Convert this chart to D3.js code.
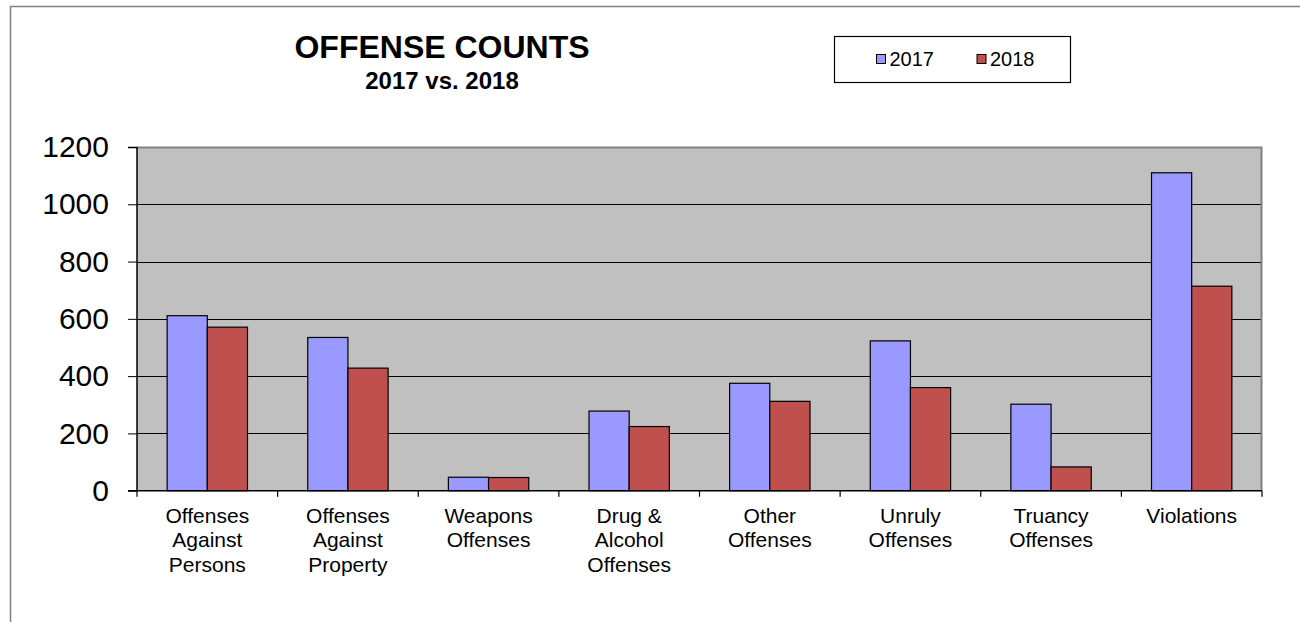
<!DOCTYPE html>
<html>
<head>
<meta charset="utf-8">
<script src="https://cdn.jsdelivr.net/npm/d3@7/dist/d3.min.js"></script>
<style>
  body { margin: 0; background: #fff; }
  svg { display: block; font-family: Arial, "Liberation Sans", sans-serif; }
</style>
</head>
<body>
<div id="chart"></div>
<script>
// data
var categories = [
  ["Offenses", "Against", "Persons"],
  ["Offenses", "Against", "Property"],
  ["Weapons", "Offenses"],
  ["Drug &", "Alcohol", "Offenses"],
  ["Other", "Offenses"],
  ["Unruly", "Offenses"],
  ["Truancy", "Offenses"],
  ["Violations"]
];
var series = ["2017", "2018"];
var values2017 = [611, 535, 47, 278, 375, 523, 302, 1110];
var values2018 = [571, 428, 46, 224, 312, 360, 83, 714];
var yTicks = [0, 200, 400, 600, 800, 1000, 1200];

var colors = {"2017": "#9999ff", "2018": "#c0504d"};

var W = 1300, H = 622;
var margin = {top: 147, left: 137},
    width  = 1125,
    height = 343.7;

var svg = d3.select("#chart").append("svg")
    .attr("width", W)
    .attr("height", H);

// outer chart border
svg.append("path")
    .attr("d", "M10.5," + H + "V6.5H" + W)
    .attr("fill", "none")
    .attr("stroke", "#808080")
    .attr("stroke-width", 1.5);

var keys = categories.map(function(d, i) { return i; });

var x = d3.scaleBand()
    .domain(keys)
    .range([0, width]);

var y = d3.scaleLinear()
    .domain([0, 1200])
    .range([height, 0]);

// bars take 2/3.5 of a band (150% gap)
var barW = x.bandwidth() / 3.5;

var g = svg.append("g")
    .attr("transform", "translate(" + margin.left + "," + margin.top + ")");

// plot background
g.append("rect")
    .attr("width", width)
    .attr("height", height)
    .attr("fill", "#c0c0c0");

// grid lines
g.selectAll(".grid")
    .data(yTicks.filter(function(d) { return d > 0 && d < 1200; }))
  .enter().append("line")
    .attr("x1", 0)
    .attr("x2", width)
    .attr("y1", function(d) { return Math.round(y(d)) + 0.5; })
    .attr("y2", function(d) { return Math.round(y(d)) + 0.5; })
    .attr("stroke", "#000")
    .attr("stroke-width", 1.2);

// plot border top / right
g.append("path")
    .attr("d", "M0,0.5H" + (width - 0.5) + "V" + height)
    .attr("fill", "none")
    .attr("stroke", "#808080")
    .attr("stroke-width", 2);

// bars
var rows = keys.map(function(i) {
  return [
    {cat: i, s: "2017", v: values2017[i]},
    {cat: i, s: "2018", v: values2018[i]}
  ];
});

g.selectAll(".grp")
    .data(rows)
  .enter().append("g")
    .attr("class", "grp")
  .selectAll("rect")
    .data(function(d) { return d; })
  .enter().append("rect")
    .attr("x", function(d, j) { return x(d.cat) + x.bandwidth() / 2 - barW + j * barW; })
    .attr("y", function(d) { return y(d.v); })
    .attr("width", barW)
    .attr("height", function(d) { return height - y(d.v); })
    .attr("fill", function(d) { return colors[d.s]; })
    .attr("stroke", "#000")
    .attr("stroke-width", 1.2);

// y axis
var yAxis = g.append("g")
    .call(d3.axisLeft(y).tickValues(yTicks).tickFormat(d3.format("d"))
      .tickSize(9).tickPadding(19));
yAxis.select(".domain").attr("stroke", "#000").attr("stroke-width", 1.5)
    .attr("d", "M-9,0.5H0V" + height);
yAxis.selectAll("text")
    .style("font-size", "30px")
    .style("font-family", "Arial, 'Liberation Sans', sans-serif")
    .attr("fill", "#000");

// x axis
var xAxis = g.append("g")
    .attr("transform", "translate(0," + height + ")");
xAxis.append("line")
    .attr("x1", -9).attr("x2", width)
    .attr("stroke", "#000").attr("stroke-width", 1.5);
xAxis.selectAll(".tk")
    .data(keys.concat([keys.length]))
  .enter().append("line")
    .attr("x1", function(d) { return d < keys.length ? x(d) : width; })
    .attr("x2", function(d) { return d < keys.length ? x(d) : width; })
    .attr("y1", 0)
    .attr("y2", 6)
    .attr("stroke", "#000")
    .attr("stroke-width", 1.2);

xAxis.selectAll(".lbl")
    .data(keys)
  .enter().append("text")
    .attr("text-anchor", "middle")
    .attr("x", function(d) { return x(d) + x.bandwidth() / 2; })
    .attr("y", 32.6)
    .style("font-size", "21px")
    .selectAll("tspan")
    .data(function(d) { return categories[d]; })
  .enter().append("tspan")
    .attr("x", function() { return d3.select(this.parentNode).attr("x"); })
    .attr("dy", function(d, i) { return i === 0 ? 0 : 24.2; })
    .text(function(d) { return d; });

// title
svg.append("text")
    .attr("x", 442)
    .attr("y", 58)
    .attr("text-anchor", "middle")
    .style("font-size", "32px")
    .style("font-weight", "bold")
    .text("OFFENSE COUNTS");
svg.append("text")
    .attr("x", 442)
    .attr("y", 88.5)
    .attr("text-anchor", "middle")
    .style("font-size", "24px")
    .style("font-weight", "bold")
    .text("2017 vs. 2018");

// legend
var legend = svg.append("g");
legend.append("rect")
    .attr("x", 834.5).attr("y", 36.5)
    .attr("width", 236).attr("height", 46)
    .attr("fill", "#fff")
    .attr("stroke", "#000")
    .attr("stroke-width", 1.2);
var li = legend.selectAll(".li")
    .data(series)
  .enter().append("g")
    .attr("transform", function(d, i) { return "translate(" + (876.5 + i * 100.5) + ",0)"; });
li.append("rect")
    .attr("y", 54.5)
    .attr("width", 9).attr("height", 9)
    .attr("fill", function(d) { return colors[d]; })
    .attr("stroke", "#000");
li.append("text")
    .attr("x", 13)
    .attr("y", 66)
    .style("font-size", "20px")
    .text(function(d) { return d; });
</script>
</body>
</html>
